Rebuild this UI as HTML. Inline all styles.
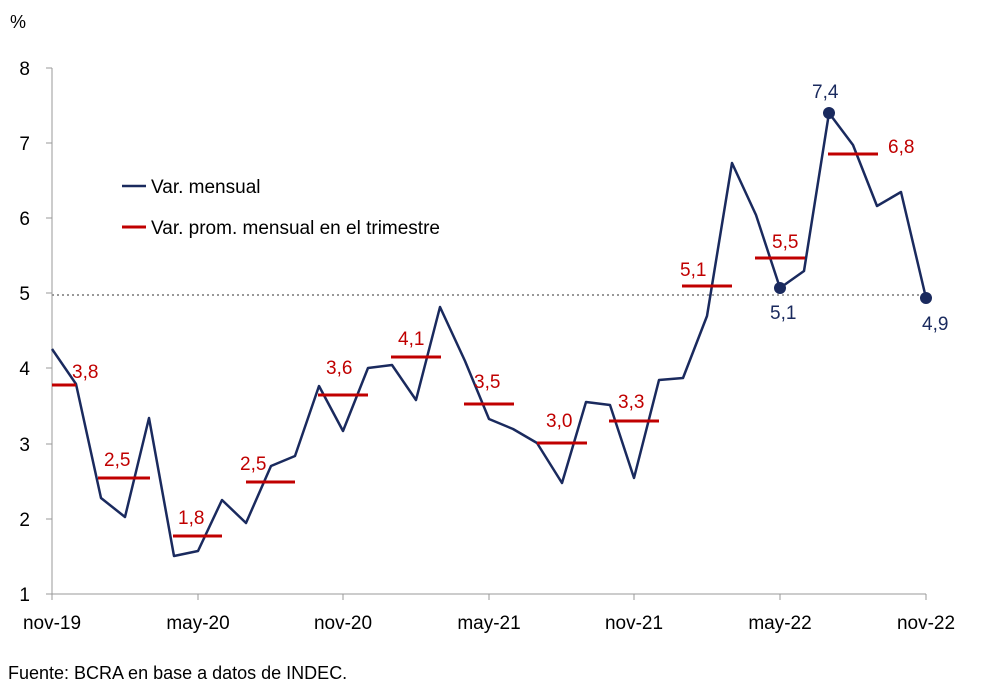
<!DOCTYPE html>
<html><head><meta charset="utf-8"><style>
body{margin:0;background:#fff;}
svg{display:block;font-family:"Liberation Sans",sans-serif;}
</style></head><body>
<svg width="1001" height="693" viewBox="0 0 1001 693">
<rect width="1001" height="693" fill="#fff"/>
<text x="10" y="28" font-size="18" fill="#000">%</text>
<g font-size="19" fill="#000" text-anchor="end">
<text x="30" y="75">8</text><text x="30" y="150">7</text><text x="30" y="225">6</text><text x="30" y="300">5</text><text x="30" y="375">4</text><text x="30" y="451">3</text><text x="30" y="526">2</text><text x="30" y="601">1</text>
</g>
<g stroke="#999" stroke-width="1">
<line x1="52" y1="68" x2="52" y2="594"/>
<line x1="52" y1="594" x2="926" y2="594"/>
<line x1="46" y1="68" x2="52" y2="68"/><line x1="46" y1="143" x2="52" y2="143"/><line x1="46" y1="218" x2="52" y2="218"/><line x1="46" y1="293" x2="52" y2="293"/><line x1="46" y1="368" x2="52" y2="368"/><line x1="46" y1="444" x2="52" y2="444"/><line x1="46" y1="519" x2="52" y2="519"/><line x1="46" y1="594" x2="52" y2="594"/>
<line x1="52" y1="594" x2="52" y2="600"/><line x1="198" y1="594" x2="198" y2="600"/><line x1="343" y1="594" x2="343" y2="600"/><line x1="489" y1="594" x2="489" y2="600"/><line x1="634" y1="594" x2="634" y2="600"/><line x1="780" y1="594" x2="780" y2="600"/><line x1="926" y1="594" x2="926" y2="600"/>
</g>
<g font-size="19" fill="#000" text-anchor="middle">
<text x="52" y="629">nov-19</text><text x="198" y="629">may-20</text><text x="343" y="629">nov-20</text><text x="489" y="629">may-21</text><text x="634" y="629">nov-21</text><text x="780" y="629">may-22</text><text x="926" y="629">nov-22</text>
</g>
<line x1="52" y1="295" x2="926" y2="295" stroke="#999" stroke-width="2" stroke-dasharray="2,3"/>
<polyline fill="none" stroke="#1a2a5e" stroke-width="2.5" stroke-linejoin="round" points="52,349 76,384 101,498 125,517 149,418 174,556 198,551 222,500 246,523 271,466 295,456 319,386 343,431 368,368 392,365 416,400 440,307 465,361 489,419 513,429 537,443 562,483 586,402 610,405 634,478 659,380 683,378 707,316 732,163 756,215 780,288 804,271 829,113 853,145 877,206 901,192 926,298"/>
<g stroke="#c00000" stroke-width="3">
<line x1="52" y1="385" x2="76" y2="385"/>
<line x1="98" y1="478" x2="150" y2="478"/>
<line x1="173" y1="536" x2="222" y2="536"/>
<line x1="246" y1="482" x2="295" y2="482"/>
<line x1="318" y1="395" x2="368" y2="395"/>
<line x1="391" y1="357" x2="441" y2="357"/>
<line x1="464" y1="404" x2="514" y2="404"/>
<line x1="537" y1="443" x2="587" y2="443"/>
<line x1="609" y1="421" x2="659" y2="421"/>
<line x1="682" y1="286" x2="732" y2="286"/>
<line x1="755" y1="258" x2="805" y2="258"/>
<line x1="828" y1="154" x2="878" y2="154"/>
</g>
<g font-size="19" fill="#c00000">
<text x="72" y="378">3,8</text>
<text x="104" y="466">2,5</text>
<text x="178" y="524">1,8</text>
<text x="240" y="470">2,5</text>
<text x="326" y="374">3,6</text>
<text x="398" y="345">4,1</text>
<text x="474" y="388">3,5</text>
<text x="546" y="427">3,0</text>
<text x="618" y="408">3,3</text>
<text x="680" y="276">5,1</text>
<text x="772" y="248">5,5</text>
<text x="888" y="153">6,8</text>
</g>
<g fill="#1a2a5e">
<circle cx="780" cy="288" r="6"/><circle cx="829" cy="113" r="6"/><circle cx="926" cy="298" r="6"/>
</g>
<g font-size="19" fill="#1a2a5e">
<text x="770" y="319">5,1</text>
<text x="812" y="98">7,4</text>
<text x="922" y="330">4,9</text>
</g>
<line x1="122" y1="186" x2="146" y2="186" stroke="#1a2a5e" stroke-width="2.5"/>
<text x="151" y="193" font-size="19" fill="#000">Var. mensual</text>
<line x1="122" y1="227" x2="146" y2="227" stroke="#c00000" stroke-width="3"/>
<text x="151" y="234" font-size="19" fill="#000">Var. prom. mensual en el trimestre</text>
<text x="8" y="679" font-size="18" fill="#000">Fuente: BCRA en base a datos de INDEC.</text>
</svg>
</body></html>
